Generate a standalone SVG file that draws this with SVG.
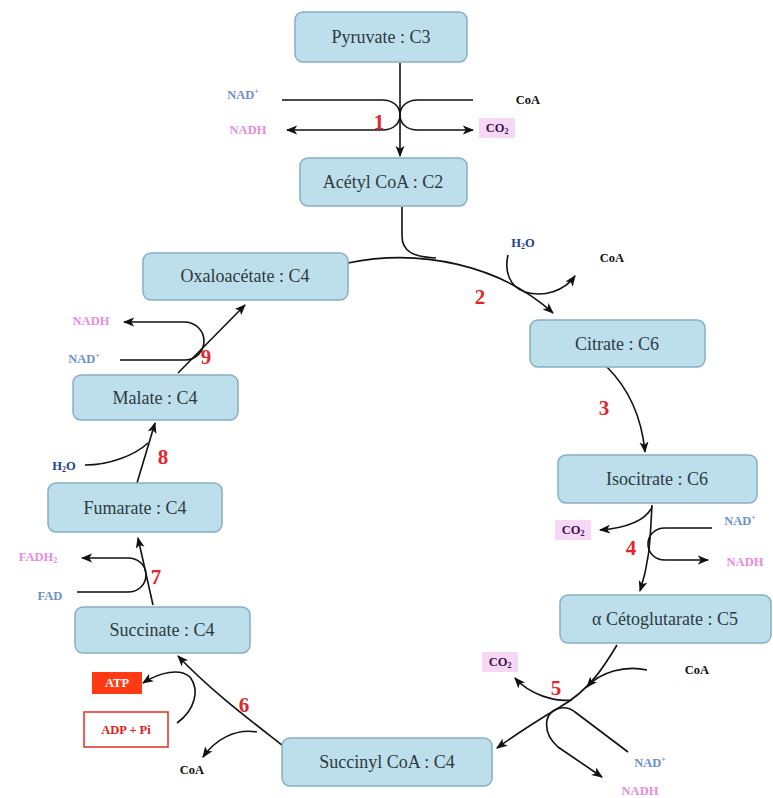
<svg xmlns="http://www.w3.org/2000/svg" width="773" height="798" viewBox="0 0 773 798">
<style>
.box{fill:#bcdfeb;stroke:#86afc4;stroke-width:1.5}
.bt{font-family:"Liberation Serif","Times New Roman",serif;font-size:18px;fill:#2e3a40;text-anchor:middle;dominant-baseline:central}
.ln{fill:none;stroke:#111;stroke-width:1.6}
.arr{marker-end:url(#ah)}
.num{font-family:"Liberation Serif",serif;font-size:21px;font-weight:bold;fill:#e3262b;text-anchor:middle;dominant-baseline:central}
.lb{font-family:"Liberation Serif",serif;font-size:12.5px;font-weight:bold;text-anchor:middle;dominant-baseline:central}
.nad{fill:#6d8fcc}
.nadh{fill:#e68ddc}
.blk{fill:#111}
.h2o{fill:#1f3f8f}
.co2{fill:#3d1048}
.co2bg{fill:#f6d8f6}
</style>
<defs>
<marker id="ah" viewBox="0 0 10 8" refX="9" refY="4" markerWidth="7" markerHeight="7" orient="auto">
<path d="M0,0 L10,4 L0,8 L2.5,4 z" fill="#111"/>
</marker>
</defs>

<g id="connectors">
<!-- 1 -->
<path class="ln arr" d="M400,63 V156"/>
<path class="ln arr" d="M282,100 H382 C394,100 400,107 400,115 C400,123 394,130 382,130 H287"/>
<path class="ln arr" d="M473,100 H418 C406,100 400,107 400,115 C400,123 406,130 418,130 H473"/>
<!-- 2 -->
<path class="ln arr" d="M348,263 C420,248 500,265 553,313"/>
<path class="ln" d="M402,207 V236 C402,252 414,257 436,258"/>
<path class="ln arr" d="M508,255 C504,272 510,287 525,292 C545,298 565,290 575,276"/>
<!-- 3 -->
<path class="ln arr" d="M607,367 Q640,400 645,452"/>
<!-- 4 -->
<path class="ln arr" d="M652,505 C650,540 650,560 640,591"/>
<path class="ln arr" d="M652,507 C645,522 625,528 600,530"/>
<path class="ln arr" d="M712,528 H665 C654,528 648,536 648,544 C648,552 654,560 665,560 H708"/>
<!-- 5 -->
<path class="ln arr" d="M617,645 C605,665 590,690 560,707 C535,722 515,735 497,748"/>
<path class="ln arr" d="M647,670 C625,665 600,672 587,687"/>
<path class="ln arr" d="M572,700 C555,702 530,695 515,678"/>
<path class="ln arr" d="M628,752 L575,712 C565,704 550,708 547,720 C545,732 550,740 558,747 L602,777"/>
<!-- 6 -->
<path class="ln arr" d="M282,745 C250,720 210,690 178,656"/>
<path class="ln arr" d="M257,732 C235,728 215,740 203,757"/>
<path class="ln arr" d="M177,723 C195,710 200,690 190,677 C180,668 160,672 143,683"/>
<!-- 7 -->
<path class="ln arr" d="M153,605 L138,538"/>
<path class="ln arr" d="M77,592 H128 C138,592 146,585 146,575 C146,565 138,558 128,558 H82"/>
<!-- 8 -->
<path class="ln arr" d="M137,483 L155,423"/>
<path class="ln" d="M85,465 C110,465 135,455 148,443"/>
<!-- 9 -->
<path class="ln arr" d="M178,373 L245,305"/>
<path class="ln arr" d="M120,360 H185 C197,360 204,350 204,341 C204,331 196,322 184,322 H124"/>
</g>

<g id="pyruvate"><rect class="box" x="295" y="12" width="172" height="50" rx="8"/><text class="bt" x="381" y="37">Pyruvate : C3</text></g>
<g id="acetylcoa"><rect class="box" x="300" y="158" width="167" height="48" rx="8"/><text class="bt" x="383" y="182">Acétyl CoA : C2</text></g>
<g id="oxaloacetate"><rect class="box" x="143" y="253" width="205" height="47" rx="8"/><text class="bt" x="245" y="276">Oxaloacétate : C4</text></g>
<g id="citrate"><rect class="box" x="530" y="320" width="175" height="47" rx="8"/><text class="bt" x="617" y="344">Citrate : C6</text></g>
<g id="isocitrate"><rect class="box" x="558" y="455" width="199" height="48" rx="8"/><text class="bt" x="657" y="479">Isocitrate : C6</text></g>
<g id="cetoglutarate"><rect class="box" x="560" y="595" width="211" height="48" rx="8"/><text class="bt" x="665" y="619">α Cétoglutarate : C5</text></g>
<g id="succinylcoa"><rect class="box" x="282" y="738" width="210" height="48" rx="8"/><text class="bt" x="387" y="762">Succinyl CoA : C4</text></g>
<g id="succinate"><rect class="box" x="75" y="607" width="175" height="46" rx="8"/><text class="bt" x="162" y="630">Succinate : C4</text></g>
<g id="fumarate"><rect class="box" x="48" y="483" width="174" height="49" rx="8"/><text class="bt" x="135" y="508">Fumarate : C4</text></g>
<g id="malate"><rect class="box" x="73" y="375" width="165" height="45" rx="8"/><text class="bt" x="155" y="398">Malate : C4</text></g>

<g id="atp"><rect x="92" y="672" width="50" height="22" fill="#ff3a14"/><text class="lb" x="117" y="683" fill="#fff">ATP</text></g>
<g id="adppi"><rect x="84" y="712" width="84" height="35" fill="#fff" stroke="#e0301e" stroke-width="1.5"/><text class="lb" x="126" y="729.5" fill="#e0201c">ADP + Pi</text></g>

<g id="labels">
<text class="lb nad" x="243" y="95">NAD<tspan font-size="8" dy="-4">+</tspan></text>
<text class="lb nadh" x="248" y="130">NADH</text>
<text class="lb blk" x="528" y="100">CoA</text>
<rect class="co2bg" x="479" y="118" width="36" height="20"/>
<text class="lb co2" x="497" y="128">CO<tspan font-size="8" dy="3">2</tspan></text>

<text class="lb h2o" x="523" y="243">H<tspan font-size="8" dy="3">2</tspan><tspan dy="-3">O</tspan></text>
<text class="lb blk" x="612" y="258">CoA</text>

<text class="lb nad" x="740" y="521">NAD<tspan font-size="8" dy="-4">+</tspan></text>
<text class="lb nadh" x="745" y="562">NADH</text>
<rect class="co2bg" x="555" y="520" width="36" height="20"/>
<text class="lb co2" x="573" y="530">CO<tspan font-size="8" dy="3">2</tspan></text>

<text class="lb blk" x="697" y="670">CoA</text>
<rect class="co2bg" x="482" y="652" width="36" height="20"/>
<text class="lb co2" x="500" y="662">CO<tspan font-size="8" dy="3">2</tspan></text>
<text class="lb nad" x="650" y="763">NAD<tspan font-size="8" dy="-4">+</tspan></text>
<text class="lb nadh" x="640" y="791">NADH</text>

<text class="lb blk" x="192" y="770">CoA</text>
<text class="lb nadh" x="38" y="557">FADH<tspan font-size="8" dy="3">2</tspan></text>
<text class="lb nad" x="50" y="596">FAD</text>
<text class="lb h2o" x="64" y="466">H<tspan font-size="8" dy="3">2</tspan><tspan dy="-3">O</tspan></text>
<text class="lb nadh" x="91" y="321">NADH</text>
<text class="lb nad" x="84" y="359">NAD<tspan font-size="8" dy="-4">+</tspan></text>
</g>

<g id="numbers">
<text class="num" x="379" y="122">1</text>
<text class="num" x="480" y="297">2</text>
<text class="num" x="604" y="408">3</text>
<text class="num" x="631" y="548">4</text>
<text class="num" x="556" y="688">5</text>
<text class="num" x="244" y="705">6</text>
<text class="num" x="156" y="577">7</text>
<text class="num" x="163" y="457">8</text>
<text class="num" x="206" y="357">9</text>
</g>
</svg>
